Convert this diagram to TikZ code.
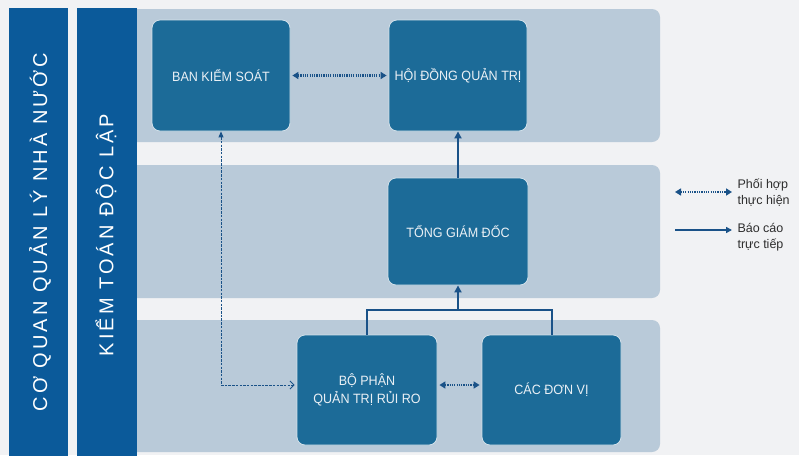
\documentclass[tikz,border=0pt]{standalone}
\usepackage{fontspec}
\setmainfont{Liberation Sans}
\usetikzlibrary{arrows.meta}
\definecolor{bgc}{HTML}{F1F2F4}
\definecolor{bandc}{HTML}{B9CAD9}
\definecolor{barc}{HTML}{0B5A9A}
\definecolor{boxc}{HTML}{1C6B98}
\definecolor{boxtext}{HTML}{EAF0F5}
\definecolor{linec}{HTML}{1A5288}
\definecolor{legtext}{HTML}{2E2E2E}
\tikzset{
  band/.style={fill=bandc, draw=none, rounded corners=8pt},
  sidebar/.style={fill=barc, draw=none},
  sidetext/.style={rotate=90, text=white, font={\addfontfeature{LetterSpace=15}\fontsize{20}{24}\selectfont}},
  orgbox/.style={draw=white!80!boxc, line width=0.8pt, fill=boxc, rounded corners=8pt,
    text=boxtext, align=center, inner sep=2pt,
    font={\addfontfeature{FakeStretch=0.93}\fontsize{13.5}{18}\selectfont}},
  coop/.style={draw=linec, line width=2.4pt, dash pattern=on 1.2pt off 1.1pt,
    {Triangle[length=6pt,width=7pt]}-{Triangle[length=6pt,width=7pt]}},
  report/.style={draw=linec, line width=2pt},
  thinlink/.style={draw=linec, line width=0.9pt, dash pattern=on 2.5pt off 1.2pt},
  legtxt/.style={anchor=west, align=left, text=legtext, font=\fontsize{12.5}{16}\selectfont}
}
\begin{document}
\begin{tikzpicture}[x=1pt, y=-1pt]
  \fill[bgc] (0,0) rectangle (799,455);
  \useasboundingbox (0,0) rectangle (799,455);
  % bands
  \path[band] (120,9) rectangle (660,142);
  \path[band] (120,165) rectangle (660,298);
  \path[band] (120,320) rectangle (660,452);
  % side bars
  \path[sidebar] (9,8) rectangle (68,460);
  \path[sidebar] (77,8) rectangle (137,460);
  \node[sidetext] (cq) at (40,232) {CƠ QUAN QUẢN LÝ NHÀ NƯỚC};
  \node[sidetext] (kt) at (106,235) {KIỂM TOÁN ĐỘC LẬP};
  % boxes
  \node[orgbox, minimum width=138pt, minimum height=111pt] (bks) at (221,75.5) {BAN KIỂM SOÁT};
  \node[orgbox, minimum width=138pt, minimum height=111pt] (hdqt) at (458,75.5) {HỘI ĐỒNG QUẢN TRỊ};
  \node[orgbox, minimum width=140pt, minimum height=107pt] (tgd) at (458,231.5) {TỔNG GIÁM ĐỐC};
  \node[orgbox, minimum width=140pt, minimum height=110pt] (bp) at (367,390) {BỘ PHẬN\\QUẢN TRỊ RỦI RO};
  \node[orgbox, minimum width=139pt, minimum height=110pt] (cdv) at (551.5,390) {CÁC ĐƠN VỊ};
  % connectors
  \draw[coop] ([xshift=2pt]bks.east) -- ([xshift=-2pt]hdqt.west);
  \draw[coop] ([xshift=2pt,yshift=5pt]bp.east) -- ([xshift=-2pt,yshift=5pt]cdv.west);
  \draw[report, -{Triangle[length=7pt,width=7pt]}] (tgd.north) -- (hdqt.south);
  \coordinate (bus) at (458,310);
  \draw[report] (bp.north) |- (bus);
  \draw[report] (cdv.north) |- (bus);
  \draw[report, -{Triangle[length=7pt,width=7pt]}] (bus) -- (tgd.south);
  \coordinate (lnk) at ([yshift=5pt]bp.west);
  \draw[thinlink, {Triangle[length=6pt,width=5pt]}-{Straight Barb[length=4pt,width=8pt]}]
    (bks.south) |- ([xshift=-2pt]lnk);
  % legend
  \coordinate (l1a) at (675,192);
  \coordinate (l1b) at (732,192);
  \coordinate (l2a) at (675,230);
  \coordinate (l2b) at (732,230);
  \draw[coop, line width=2pt] (l1a) -- (l1b);
  \draw[report, line width=2pt, -{Triangle[length=6pt,width=6pt]}] (l2a) -- (l2b);
  \node[legtxt] (t1) at (734,193) {Phối hợp\\thực hiện};
  \node[legtxt] (t2) at (734,237) {Báo cáo\\trực tiếp};
\end{tikzpicture}
\end{document}
